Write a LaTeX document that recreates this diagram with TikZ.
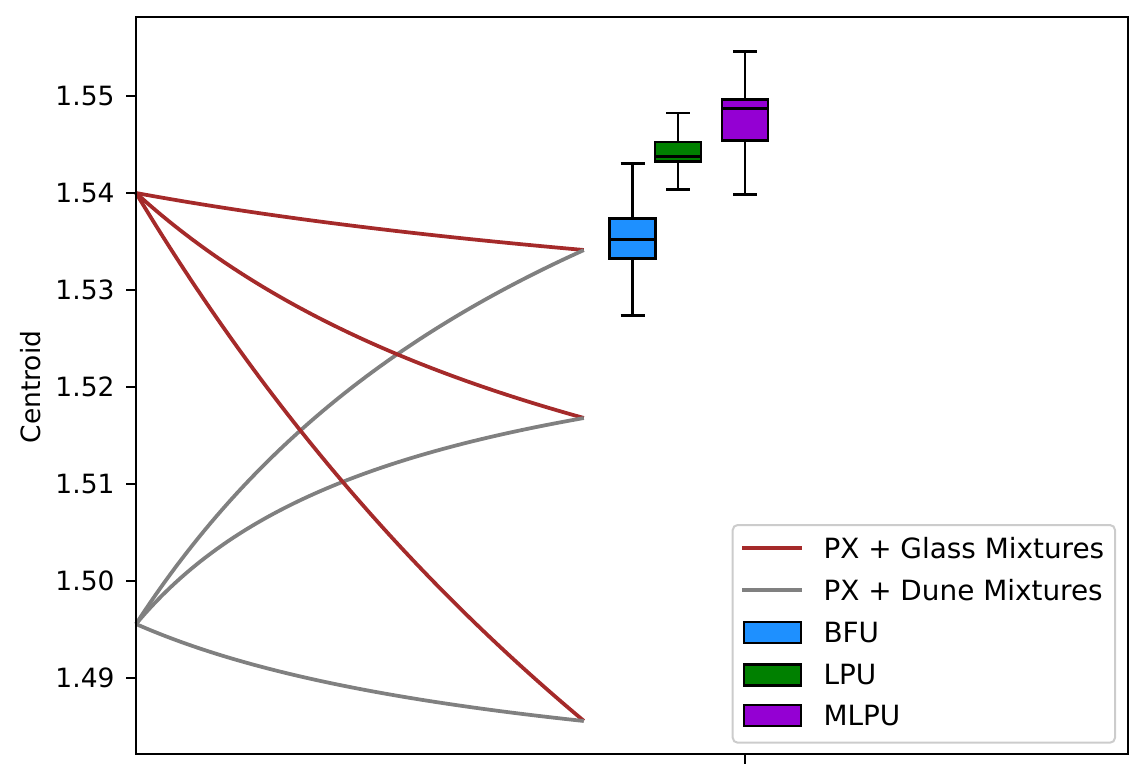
\documentclass[tikz,border=0pt]{standalone}
\usepackage{fontspec}
\setmainfont{DejaVu Sans}
\newlength{\du}
\setlength{\du}{0.4pt}
\definecolor{glasscolor}{HTML}{A52A2A}
\definecolor{dunecolor}{HTML}{808080}
\definecolor{bfucolor}{HTML}{1E90FF}
\definecolor{lpucolor}{HTML}{008000}
\definecolor{mlpucolor}{HTML}{9400D3}
\definecolor{framegray}{rgb}{0.8,0.8,0.8}
\tikzset{
  mixline/.style={line width=1.5pt, line join=round},
  boxpart/.style={draw=black, line width=1.1pt},
  axisline/.style={draw=black, line width=0.8pt},
  ticklabel/.style={anchor=east, inner sep=0pt},
  legendtext/.style={anchor=west, inner sep=0pt, font=\fontsize{11.15pt}{13.4pt}\selectfont},
  legendframe/.style={draw=framegray, fill=white, line width=0.8pt, rounded corners=5\du},
}
% mixing curve: colour, start y, end y, weight
\newcommand{\mixcurve}[4]{%
\draw[mixline, #1] plot[domain=0:1, samples=90, variable=\t]
  ({(136+448*\t)*\du}, {(#2+(#3-#2)*#4*\t/((1-\t)+#4*\t))*\du});
}
% box: colour, centre x, whisker top, box top, median, box bottom, whisker bottom
\newcommand{\unitbox}[7]{%
\draw[boxpart] ({#2*\du},{#3*\du})--({#2*\du},{#4*\du});
\draw[boxpart] ({#2*\du},{#6*\du})--({#2*\du},{#7*\du});
\draw[boxpart] ({(#2-12)*\du},{#3*\du})--({(#2+12)*\du},{#3*\du});
\draw[boxpart] ({(#2-12)*\du},{#7*\du})--({(#2+12)*\du},{#7*\du});
\draw[boxpart, fill=#1] ({(#2-23)*\du},{#4*\du}) rectangle ({(#2+23)*\du},{#6*\du});
\draw[boxpart] ({(#2-23)*\du},{#5*\du})--({(#2+23)*\du},{#5*\du});
}
\begin{document}
\begin{tikzpicture}[font=\fontsize{10.6pt}{12.7pt}\selectfont]
\pgftransformxscale{1.000000}
\pgftransformyscale{-1.000000}
\useasboundingbox (0\du,0\du) rectangle (1146\du,768\du);
% mixtures
\mixcurve{glasscolor}{193}{250}{1.44}
\mixcurve{dunecolor}{624}{250}{1.85}
\mixcurve{glasscolor}{193}{418}{1.81}
\mixcurve{dunecolor}{624}{418}{2.6}
\mixcurve{glasscolor}{193}{721}{1.41}
\mixcurve{dunecolor}{624}{721}{2.03}
% boxes
\unitbox{bfucolor}{632.5}{163.3}{218.3}{239.3}{258.3}{315.3}
\unitbox{lpucolor}{678}{113}{142}{156.7}{161.7}{189.3}
\unitbox{mlpucolor}{745}{51.3}{99.3}{108.3}{140.3}{194.3}
% axes
\draw[axisline] (136\du,17\du) rectangle (1128\du,754\du);
\foreach \yy/\lab/\i in {96/1.55/1,193/1.54/2,290/1.53/3,387/1.52/4,484/1.51/5,581/1.50/6,678/1.49/7}{
\draw[axisline] (126.3\du,\yy\du)--(136\du,\yy\du);
\node[ticklabel] (ytick\i) at (115\du,\yy\du){\lab};
}
\draw[axisline] (744.5\du,754\du)--(744.5\du,763.7\du);
\node[rotate=90] (ylabel) at (31\du,387\du){Centroid};
% legend
\draw[legendframe] (732.7\du,525\du) rectangle (1115\du,742.7\du);
\draw[mixline, glasscolor] (742\du,548\du)--(802\du,548\du);
\draw[mixline, dunecolor] (742\du,590\du)--(802\du,590\du);
\draw[boxpart, fill=bfucolor] (744\du,622\du) rectangle (801\du,643\du);
\draw[boxpart, fill=lpucolor] (744\du,664.5\du) rectangle (801\du,685.5\du);
\draw[boxpart, fill=mlpucolor] (744\du,705\du) rectangle (801\du,726\du);
\node[legendtext] (legglass) at (823\du,548\du){PX + Glass Mixtures};
\node[legendtext] (legdune) at (823\du,590\du){PX + Dune Mixtures};
\node[legendtext] (legbfu) at (823\du,632.5\du){BFU};
\node[legendtext] (leglpu) at (823\du,675\du){LPU};
\node[legendtext] (legmlpu) at (823\du,715.5\du){MLPU};
\end{tikzpicture}
\end{document}
